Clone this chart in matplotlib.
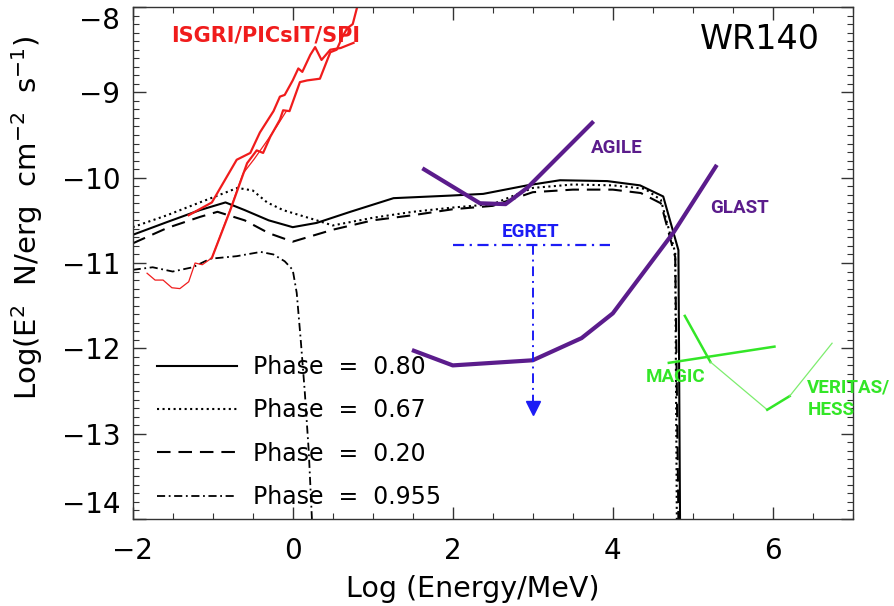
import matplotlib
matplotlib.use('Agg')
import matplotlib.pyplot as plt
from matplotlib.ticker import MultipleLocator

# model spectra for the four orbital phases (log E [MeV], log E^2 N)
x_p80 = [-2.0, -1.57, -1.16, -0.84, -0.6, -0.3, 0.0, 0.3, 0.72, 1.26, 1.97, 2.38, 2.93, 3.34,
         3.93, 4.34, 4.63, 4.82, 4.84]
y_p80 = [-10.67, -10.52, -10.38, -10.29, -10.38, -10.5, -10.58, -10.53, -10.40, -10.24, -10.21,
         -10.19, -10.09, -10.03, -10.04, -10.09, -10.22, -10.85, -14.0]

x_p67 = [-2.0, -1.57, -1.16, -0.69, -0.5, -0.32, -0.12, 0.3, 0.5, 1.0, 1.5, 2.0, 2.5, 3.0, 3.5,
         4.0, 4.4, 4.6, 4.78, 4.80]
y_p67 = [-10.58, -10.44, -10.29, -10.12, -10.15, -10.29, -10.38, -10.50, -10.56, -10.47, -10.40,
         -10.35, -10.31, -10.12, -10.08, -10.09, -10.13, -10.26, -10.88, -14.0]

x_p20 = [-2.0, -1.57, -1.16, -0.94, -0.6, -0.3, 0.0, 0.5, 1.0, 1.5, 2.0, 2.5, 3.0, 3.5,
         4.0, 4.35, 4.6, 4.78, 4.82]
y_p20 = [-10.77, -10.59, -10.46, -10.40, -10.50, -10.65, -10.75, -10.61, -10.50, -10.44, -10.37,
         -10.33, -10.17, -10.14, -10.14, -10.18, -10.30, -10.93, -14.0]

x_p955 = [-2.0, -1.75, -1.5, -1.25, -1.03, -0.7, -0.4, -0.24, -0.1, 0.0, 0.05, 0.1, 0.15, 0.2, 0.24]
y_p955 = [-11.08, -11.05, -11.1, -11.05, -10.95, -10.92, -10.87, -10.9, -10.98, -11.08, -11.35,
          -11.9, -12.5, -13.2, -14.0]

phase_labels = ['Phase  =  0.80', 'Phase  =  0.67', 'Phase  =  0.20', 'Phase  =  0.955']

# INTEGRAL sensitivities (ISGRI / PICsIT / SPI)
x_isgri_a = [-1.30, -1.01, -0.70, -0.53, -0.41, -0.24, -0.16, -0.10, 0.0, 0.07, 0.12, 0.22,
             0.28, 0.36, 0.47, 0.60, 0.76]
y_isgri_a = [-10.44, -10.29, -9.79, -9.71, -9.47, -9.22, -9.05, -9.03, -8.86, -8.72, -8.76, -8.56,
             -8.47, -8.62, -8.50, -8.48, -8.42]
x_isgri_b = [-1.01, -0.78, -0.57, -0.45, -0.37, -0.28, -0.16, -0.12, -0.04, 0.09, 0.18, 0.34,
             0.47, 0.55, 0.62, 0.68, 0.75, 0.80, 0.83]
y_isgri_b = [-10.94, -10.38, -9.83, -9.68, -9.71, -9.52, -9.32, -9.21, -9.22, -8.88, -8.86, -8.84,
             -8.53, -8.50, -8.35, -8.25, -8.20, -8.02, -7.9]
x_isgri_c = [-1.82, -1.72, -1.62, -1.51, -1.41, -1.30, -1.22, -1.13, -1.01, -0.80, -0.62, -0.48,
             -0.33, -0.2, -0.08]
y_isgri_c = [-11.12, -11.2, -11.2, -11.29, -11.3, -11.22, -11.0, -11.02, -10.94, -10.42, -9.95,
             -9.78, -9.58, -9.40, -9.22]

# AGILE and GLAST sensitivities
x_agile = [1.62, 2.34, 2.66, 2.93, 3.76]
y_agile = [-9.89, -10.30, -10.31, -10.12, -9.34]
x_glast = [1.49, 2.0, 3.0, 3.61, 4.0, 4.76, 5.3]
y_glast = [-12.02, -12.2, -12.14, -11.88, -11.59, -10.64, -9.85]

# EGRET upper limit
x_egret = [2.0, 3.97]
y_egret = -10.79
egret_limit = -12.70

# MAGIC and VERITAS/HESS sensitivities
x_magic_a = [4.7, 6.02]
y_magic_a = [-12.17, -11.98]
x_magic_b = [4.9, 5.22]
y_magic_b = [-11.62, -12.16]
x_veritas = [5.22, 5.93, 6.21, 6.74]
y_veritas = [-12.16, -12.72, -12.56, -11.94]

red = '#f01c1c'
purple = '#5b1c8c'
blue = '#1c1cf5'
green = '#33e627'
lightgreen = '#7ded6e'

fig = plt.figure(figsize=(8.94, 6.06), dpi=100)
ax = fig.add_axes([0.1484, 0.1436, 0.8056, 0.8448])

l1, = ax.plot(x_p80, y_p80, color='black', lw=1.5, ls='-')
l2, = ax.plot(x_p67, y_p67, color='black', lw=1.5, ls=':')
l3, = ax.plot(x_p20, y_p20, color='black', lw=1.5, ls=(0, (6.5, 3.8)))
l4, = ax.plot(x_p955, y_p955, color='black', lw=1.3, ls=(0, (4.5, 2.0, 1.0, 2.0)))

ax.plot(x_isgri_a, y_isgri_a, color=red, lw=1.6)
ax.plot(x_isgri_b, y_isgri_b, color=red, lw=1.6)
ax.plot(x_isgri_c, y_isgri_c, color=red, lw=0.9)

ax.plot(x_agile, y_agile, color=purple, lw=3.0, solid_capstyle='butt')
ax.plot(x_glast, y_glast, color=purple, lw=3.0, solid_capstyle='butt')

ax.plot(x_egret, [y_egret, y_egret], color=blue, lw=1.6, ls=(0, (5, 2.5, 1, 2.5)))
ax.plot([3.0, 3.0], [y_egret, egret_limit], color=blue, lw=1.4, ls=(0, (5, 2.5, 1, 2.5)))
ax.plot([3.0], [egret_limit], marker='v', color=blue, ms=10, ls='none')

ax.plot(x_magic_a, y_magic_a, color=green, lw=1.8)
ax.plot(x_magic_b, y_magic_b, color=green, lw=1.8)
ax.plot(x_veritas[:2], y_veritas[:2], color=lightgreen, lw=0.9)
ax.plot(x_veritas[1:3], y_veritas[1:3], color=green, lw=1.8)
ax.plot(x_veritas[2:], y_veritas[2:], color=lightgreen, lw=0.9)

# instrument labels
lab = dict(fontsize=13.5, fontweight='bold', family=['Roboto', 'DejaVu Sans'])
ax.text(-1.52, -8.33, 'ISGRI/PICsIT/SPI', color=red, ha='left', va='center', fontsize=15,
        fontweight='bold')
ax.text(3.73, -9.65, 'AGILE', color=purple, ha='left', va='center', **lab)
ax.text(5.22, -10.35, 'GLAST', color=purple, ha='left', va='center', **lab)
ax.text(2.97, -10.64, 'EGRET', color=blue, ha='center', va='center', **lab)
ax.text(4.78, -12.34, 'MAGIC', color=green, ha='center', va='center', **lab)
ax.text(6.43, -12.46, 'VERITAS/', color=green, ha='left', va='center', **lab)
ax.text(6.43, -12.72, 'HESS', color=green, ha='left', va='center', **lab)
ax.text(5.84, -8.38, 'WR140', color='black', ha='center', va='center', fontsize=24)

ax.legend([l1, l2, l3, l4], phase_labels, loc='lower left', bbox_to_anchor=(0.004, -0.022),
          frameon=False, fontsize=17, handlelength=3.4, handletextpad=0.68, labelspacing=0.82)

ax.set_xlim(-2, 7)
ax.set_ylim(-14, -8)
ax.xaxis.set_major_locator(MultipleLocator(2))
ax.xaxis.set_minor_locator(MultipleLocator(0.5))
ax.yaxis.set_major_locator(MultipleLocator(1))
ax.yaxis.set_minor_locator(MultipleLocator(0.1))
ax.tick_params(which='both', direction='in', top=True, right=True, color='#333333')
ax.tick_params(which='major', length=9, width=1, labelsize=20)
ax.tick_params(which='minor', length=4.5, width=0.8)
ax.tick_params(axis='x', which='major', pad=13)
ax.tick_params(axis='y', which='major', pad=9)
for s in ax.spines.values():
    s.set_color('#333333')
    s.set_linewidth(1.0)

ax.set_xlabel('Log (Energy/MeV)', fontsize=20.5)
ax.set_ylabel(r'Log(E$^{\mathregular{2}}$  N/erg  cm$^{\mathregular{-2}}$  s$^{\mathregular{-1}}$)',
              fontsize=21)
ax.xaxis.set_label_coords(0.472, -0.11)
ax.yaxis.set_label_coords(-0.122, 0.588)

fig.canvas.draw()
for t in ax.yaxis.get_major_ticks():
    if abs(t.get_loc() + 14) < 1e-6:
        t.label1.set_va('bottom')
    elif abs(t.get_loc() + 8) < 1e-6:
        t.label1.set_va('top')

fig.savefig('out.png', dpi=100)
